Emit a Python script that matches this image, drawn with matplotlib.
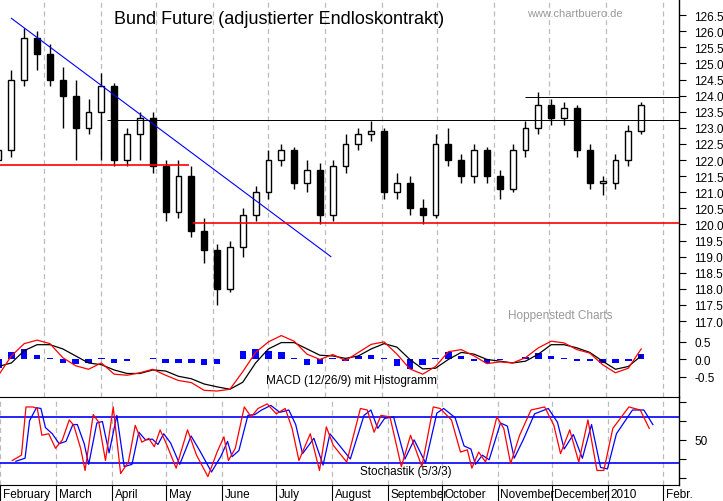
import matplotlib.pyplot as plt
import numpy as np

plt.rcParams['font.family'] = ['Liberation Sans', 'DejaVu Sans']

# x axis: calendar days since 1 Feb 2009
week_day = [3 + 7 * k for k in range(51)]
opens = [122.0, 122.3, 124.5, 125.8, 125.3, 124.5, 124.0, 123.0, 123.5, 124.3,
         122.0, 122.8, 123.3, 121.8, 120.4, 121.5, 119.8, 119.2, 118.0, 119.3,
         120.3, 121.0, 122.0, 122.3, 121.3, 121.7, 120.3, 121.8, 122.5, 122.8,
         122.9, 121.0, 121.3, 120.5, 120.3, 122.5, 122.0, 121.5, 122.3, 121.5,
         121.1, 122.3, 123.0, 123.7, 123.3, 123.6, 122.3, 121.3, 121.3, 122.0,
         122.9]
closes = [122.3, 124.5, 125.8, 125.3, 124.5, 124.0, 123.0, 123.5, 124.3, 122.0,
          122.8, 123.3, 121.8, 120.4, 121.5, 119.8, 119.2, 118.0, 119.3, 120.3,
          121.0, 122.0, 122.3, 121.3, 121.7, 120.3, 121.8, 122.5, 122.8, 122.9,
          121.0, 121.3, 120.5, 120.3, 122.5, 122.0, 121.5, 122.3, 121.5, 121.1,
          122.3, 123.0, 123.7, 123.3, 123.6, 122.3, 121.3, 121.3, 122.0, 122.9,
          123.7]
highs = [122.6, 124.8, 126.1, 126.0, 125.6, 124.9, 124.5, 123.9, 124.7, 124.4,
         123.0, 123.5, 123.5, 122.0, 122.0, 121.8, 120.2, 119.4, 119.5, 120.5,
         121.2, 122.3, 122.5, 122.4, 122.0, 121.9, 122.0, 122.8, 123.0, 123.2,
         123.0, 121.6, 121.5, 120.8, 122.8, 123.0, 122.2, 122.5, 122.4, 121.7,
         122.5, 123.2, 124.1, 123.9, 123.8, 123.7, 122.5, 121.5, 122.2, 123.1,
         123.8]
lows = [121.6, 122.1, 124.3, 124.8, 124.3, 123.0, 122.0, 122.8, 122.0, 121.8,
        121.8, 122.0, 121.6, 120.1, 120.2, 119.6, 118.8, 117.5, 117.9, 119.0,
        120.1, 120.8, 121.8, 121.1, 121.0, 120.0, 120.1, 121.6, 122.3, 122.6,
        120.8, 120.8, 120.3, 120.0, 120.2, 121.8, 121.3, 121.3, 121.3, 120.8,
        121.0, 122.1, 122.8, 123.1, 123.1, 122.1, 121.1, 120.9, 121.1, 121.8,
        122.8]

macd = [-0.45, 0.10, 0.45, 0.55, 0.45, 0.05, -0.18, -0.28, -0.10, -0.42,
        -0.45, -0.38, -0.28, -0.45, -0.60, -0.66, -0.88, -0.90, -0.85, -0.35,
        0.20, 0.50, 0.68, 0.52, 0.15, 0.00, 0.14, -0.03, 0.20, 0.43,
        0.50, 0.15, -0.27, -0.42, -0.20, 0.22, 0.28, 0.10, -0.12, -0.07,
        -0.10, 0.05, 0.33, 0.52, 0.47, 0.28, 0.18, -0.15, -0.38, -0.25,
        0.30]
signal = [-0.20, -0.10, 0.25, 0.42, 0.42, 0.30, 0.10, -0.10, -0.15, -0.30,
          -0.40, -0.40, -0.30, -0.33, -0.48, -0.55, -0.70, -0.78, -0.85, -0.65,
          -0.10, 0.30, 0.48, 0.48, 0.30, 0.12, 0.10, 0.03, 0.10, 0.30,
          0.45, 0.35, 0.00, -0.27, -0.25, 0.00, 0.20, 0.15, 0.00, -0.05,
          -0.10, -0.05, 0.15, 0.42, 0.42, 0.33, 0.20, -0.05, -0.28, -0.20,
          0.10]
hist = [-0.25, 0.20, 0.30, 0.13, 0.03, -0.10, -0.12, -0.10, 0.05, -0.10,
        -0.05, 0.02, 0.03, -0.10, -0.10, -0.10, -0.15, -0.12, 0.00, 0.25,
        0.30, 0.25, 0.20, 0.05, -0.15, -0.12, 0.04, -0.05, 0.10, 0.13,
        0.05, -0.20, -0.28, -0.15, 0.05, 0.20, 0.10, -0.05, -0.10, -0.03,
        0.00, 0.08, 0.18, 0.10, 0.05, -0.05, -0.05, -0.10, -0.10, -0.05,
        0.15]

stoch_day = [3.8, 8.9, 11.4, 15.2, 17.7, 20.2, 24.0, 27.8, 31.6, 35.4,
             37.9, 41.7, 44.2, 48.7, 51.8, 55.5, 59.8, 63.9, 68.2, 72.0,
             75.7, 79.5, 82.6, 85.8, 89.6, 94.7, 101.0, 106.0, 112.3, 117.4,
             121.2, 123.7, 127.5, 132.5, 136.3, 140.1, 145.2, 150.2, 155.2, 159.0,
             162.8, 169.1, 174.2, 178.0, 181.8, 189.3, 196.9, 200.7, 204.5, 208.3,
             213.3, 219.6, 224.7, 231.0, 237.3, 241.1, 247.4, 252.4, 256.2, 258.7,
             262.5, 266.3, 272.6, 276.4, 280.2, 285.2, 291.5, 299.1, 304.2, 307.9,
             313.0, 318.0, 323.1, 328.1, 331.9, 336.9, 345.8, 352.1, 357.1]
stoch_k = [23, 30, 93, 93, 91, 56, 58, 39, 50, 76,
           69, 39, 10, 83, 73, 23, 93, 6, 21, 69,
           47, 52, 41, 63, 43, 13, 63, 30, 2, 34,
           54, 23, 39, 93, 80, 91, 97, 84, 91, 65,
           23, 58, 10, 67, 43, 21, 91, 89, 60, 82,
           80, 15, 56, 15, 93, 91, 76, 34, 37, 13,
           34, 21, 80, 65, 19, 56, 89, 93, 69, 32,
           63, 21, 76, 10, 10, 65, 93, 89, 65]
stoch_d = [22, 26, 75, 92, 91, 66, 58, 45, 48, 70,
           70, 45, 18, 72, 74, 33, 82, 15, 18, 60,
           50, 51, 44, 58, 46, 18, 55, 35, 8, 28,
           48, 28, 36, 82, 83, 89, 95, 86, 89, 70,
           32, 52, 17, 58, 47, 25, 82, 89, 65, 78,
           80, 25, 50, 20, 85, 91, 79, 42, 38, 18,
           30, 24, 72, 68, 26, 50, 84, 91, 73, 38,
           57, 26, 70, 14, 12, 58, 89, 89, 70]

month_day = [-3, 28, 59, 89, 120, 150, 181, 212, 242, 273, 303, 334, 365]
month_lbl = ['February', 'March', 'April', 'May', 'June', 'July', 'August',
             'September', 'October', 'November', 'December', '2010', 'Febr.']

trend_day = [10, 184]
trend_val = [126.4, 119.0]
support_upper = (121.85, -3, 107)
support_lower = (120.05, 109, 380)
resist_a = (123.25, 62, 380)
resist_b = (123.95, 290, 380)

W, H = 723, 502
fig = plt.figure(figsize=(W / 100, H / 100), dpi=100)
fig.patch.set_facecolor('white')
xr = 679 / W


def add_ax(top, bottom):
    return fig.add_axes([0, 1 - bottom / H, xr, (bottom - top) / H])


ax = add_ax(0, 332)
axm = add_ax(332, 398)
axs = add_ax(398, 486)
xlim = (3.8, 373.6)

for a in (ax, axm, axs):
    a.set_xlim(*xlim)
    for d in month_day:
        a.axvline(d, color='#bbbbbb', lw=0.9, ls=(0, (4, 3)), zorder=0)
    a.yaxis.tick_right()
    a.tick_params(axis='y', direction='out', length=5, labelsize=8.5, pad=6)
    a.set_xticks([])
    for s in ('top', 'left', 'bottom'):
        a.spines[s].set_visible(False)
    a.spines['right'].set_linewidth(1)

# price panel
ax.set_ylim(116.69, 127.0)
ax.set_yticks(np.arange(117.0, 126.51, 0.5))
ax.set_yticklabels([f'{v:.1f}' for v in np.arange(117.0, 126.51, 0.5)])
for d, o, h, l, c in zip(week_day, opens, highs, lows, closes):
    ax.vlines(d, l, h, color='black', lw=1, zorder=3)
    fc = 'white' if c >= o else 'black'
    ax.add_patch(plt.Rectangle((d - 1.6, min(o, c)), 3.2, max(abs(c - o), 0.04),
                               facecolor=fc, edgecolor='black', lw=1, zorder=4))
ax.plot(trend_day, trend_val, color='#0000ff', lw=0.8, zorder=5)
for lvl, a0, a1 in (support_upper, support_lower):
    ax.hlines(lvl, a0, a1, color='red', lw=1.2, zorder=5)
for lvl, a0, a1 in (resist_a, resist_b):
    ax.hlines(lvl, a0, a1, color='black', lw=0.7, zorder=5)
ax.text(156, 126.4, 'Bund Future (adjustierter Endloskontrakt)', fontsize=13,
        ha='center', va='center')
ax.text(317, 126.57, 'www.chartbuero.de', fontsize=8, color='#999999',
        ha='center', va='center')
ax.text(309, 117.2, 'Hoppenstedt Charts', fontsize=8.5, color='#999999',
        ha='center', va='center')

# MACD panel
axm.set_ylim(-1.07, 0.81)
axm.set_yticks([0.5, 0.0, -0.5])
axm.set_yticklabels(['0.5', '0.0', '-0.5'])
axm.bar(week_day, hist, width=3.5, color='#0000ff', zorder=2)
axm.plot(week_day, signal, color='black', lw=0.9, zorder=3)
axm.plot(week_day, macd, color='red', lw=0.9, zorder=4)
axm.text(195, -0.6, 'MACD (12/26/9) mit Histogramm', fontsize=8.5,
         ha='center', va='center')

# Stochastic panel
axs.set_ylim(-9, 106)
axs.set_yticks([0, 25, 50, 75, 100])
axs.set_yticklabels(['', '', '50', '', ''])
axs.spines['top'].set_visible(True)
axs.axhline(80, color='#0000ff', lw=1.2)
axs.axhline(20, color='#0000ff', lw=1.2)
axs.plot(np.array(stoch_day) + 2, stoch_d, color='#0000ff', lw=0.9)
axs.plot(stoch_day, stoch_k, color='red', lw=0.9)
axs.text(222, 9, 'Stochastik (5/3/3)', fontsize=8.5, ha='center', va='center')

# month labels
axs.spines['bottom'].set_visible(True)
axs.set_xticks(month_day)
axs.set_xticklabels([])
axs.tick_params(axis='x', direction='out', length=12)
for d, lbl in zip(month_day, month_lbl):
    axs.annotate(lbl, (d, -9), xytext=(2, -6.5), textcoords='offset points',
                 fontsize=8.5, ha='left', va='center', annotation_clip=False)

fig.savefig('out.png', dpi=100)
